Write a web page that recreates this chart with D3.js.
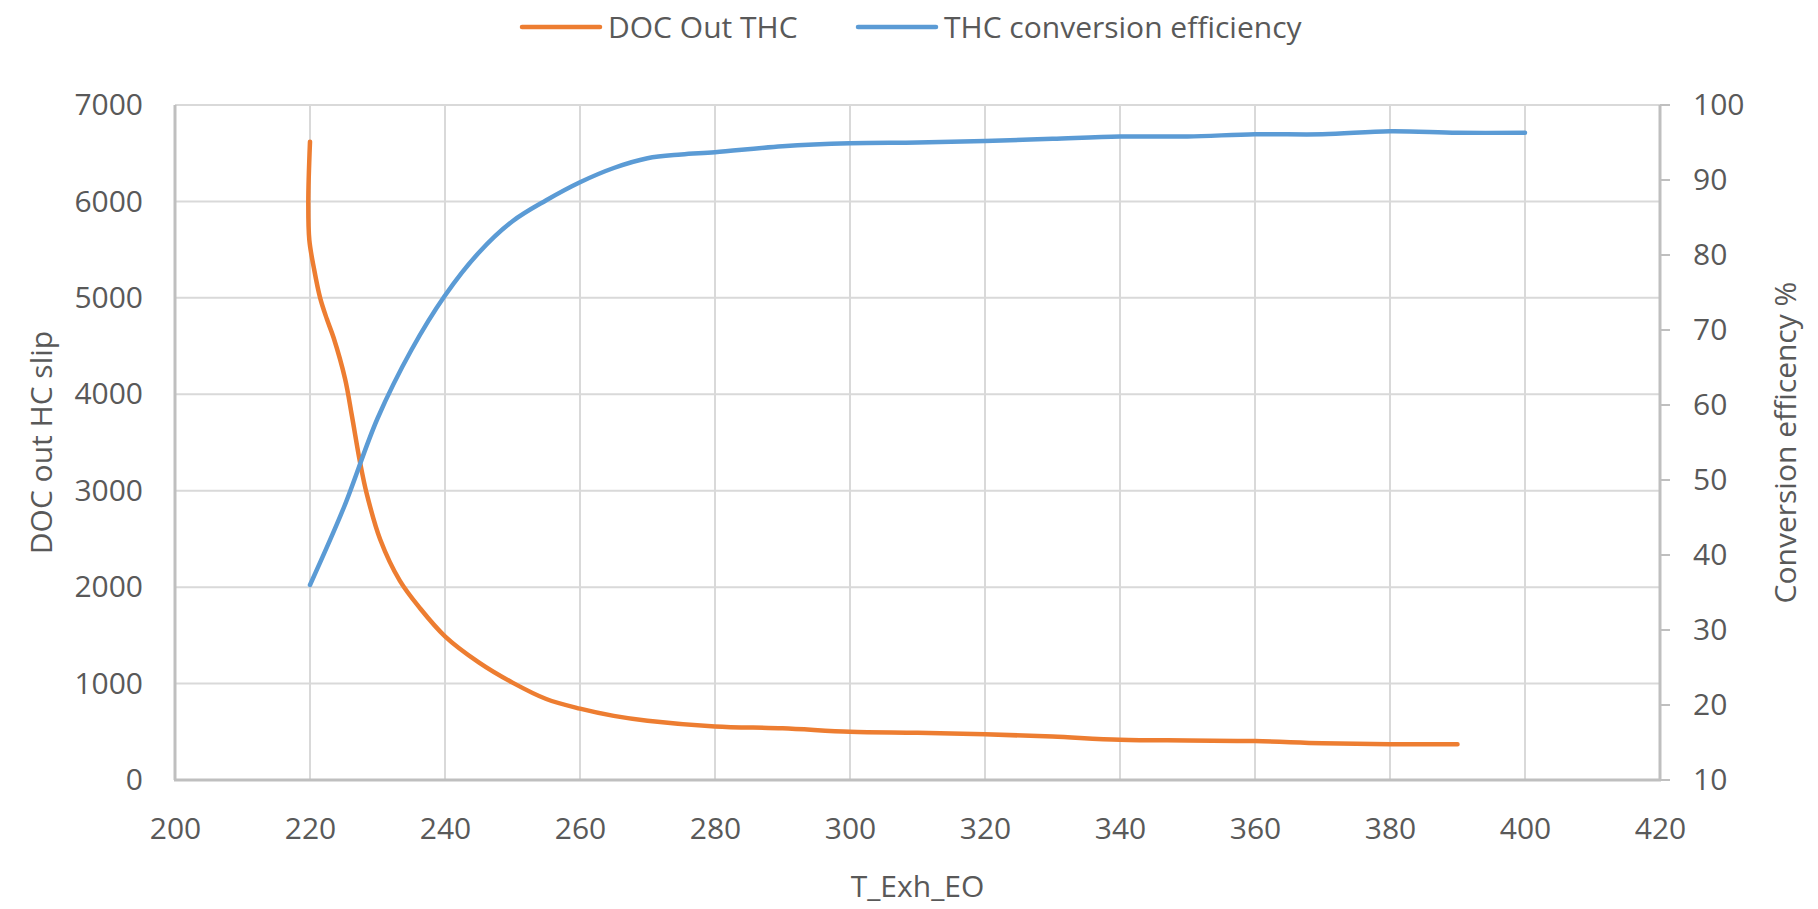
<!DOCTYPE html>
<html>
<head>
<meta charset="utf-8">
<script src="https://cdn.jsdelivr.net/npm/d3@7"></script>
<style>
  body { margin: 0; background: #fff; }
  text { font-family: "Open Sans", sans-serif; fill: #595959; }
</style>
</head>
<body>
<div id="chart"></div>
<script>
// data
var xTicks = [200, 220, 240, 260, 280, 300, 320, 340, 360, 380, 400, 420];
var leftTicks = [0, 1000, 2000, 3000, 4000, 5000, 6000, 7000];
var rightTicks = [10, 20, 30, 40, 50, 60, 70, 80, 90, 100];

var thcTemp = [220, 219.75, 219.9, 220.6, 221.5, 222.5, 223.5, 225.2, 226.2, 227.4, 228.4, 230.4, 233.3, 236.3, 240, 245, 250, 255, 260, 265, 270, 280, 290, 300, 310, 320, 330, 340, 350, 360, 370, 380, 390];
var thcOut  = [6620, 6000, 5600, 5300, 5000, 4780, 4586, 4158, 3780, 3300, 2970, 2494, 2067, 1781, 1490, 1220, 1010, 840, 740, 665, 615, 556, 537, 500, 490, 475, 450, 418, 410, 404, 382, 372, 372];

var effTemp = [220, 225, 230, 235, 240, 245, 250, 255, 260, 265, 270, 275, 280, 290, 300, 310, 320, 330, 340, 350, 360, 370, 380, 390, 400];
var effPct  = [36, 46.3, 58.2, 67.3, 74.6, 80.3, 84.5, 87.3, 89.7, 91.6, 92.9, 93.4, 93.7, 94.5, 94.9, 95.0, 95.2, 95.5, 95.8, 95.8, 96.1, 96.1, 96.5, 96.3, 96.3];

var svgWidth = 1818, svgHeight = 909;
var margin = {top: 105, right: 158, bottom: 129, left: 175},
    width = svgWidth - margin.left - margin.right,
    height = svgHeight - margin.top - margin.bottom;

var svg = d3.select("#chart")
  .append("svg")
    .attr("width", svgWidth)
    .attr("height", svgHeight);

var g = svg.append("g")
    .attr("transform", "translate(" + margin.left + "," + margin.top + ")");

var x = d3.scaleLinear().domain([200, 420]).range([0, width]);
var yL = d3.scaleLinear().domain([0, 7000]).range([height, 0]);
var yR = d3.scaleLinear().domain([10, 100]).range([height, 0]);

// gridlines
g.append("g")
  .selectAll("line.hgrid")
  .data(leftTicks.slice(1))
  .join("line")
    .attr("x1", 0).attr("x2", width)
    .attr("y1", d => yL(d)).attr("y2", d => yL(d))
    .attr("stroke", "#d9d9d9").attr("stroke-width", 2);

g.append("g")
  .selectAll("line.vgrid")
  .data(xTicks.slice(1, -1))
  .join("line")
    .attr("x1", d => x(d)).attr("x2", d => x(d))
    .attr("y1", 0).attr("y2", height)
    .attr("stroke", "#d9d9d9").attr("stroke-width", 2);

// axis lines
var axisColor = "#bfbfbf";
g.append("line").attr("x1", 0).attr("x2", 0).attr("y1", 0).attr("y2", height)
  .attr("stroke", axisColor).attr("stroke-width", 3);
g.append("line").attr("x1", width).attr("x2", width).attr("y1", 0).attr("y2", height)
  .attr("stroke", axisColor).attr("stroke-width", 3);
g.append("line").attr("x1", -1).attr("x2", width + 1).attr("y1", height).attr("y2", height)
  .attr("stroke", axisColor).attr("stroke-width", 3);

// right axis tick marks
g.append("g")
  .selectAll("line")
  .data(rightTicks)
  .join("line")
    .attr("x1", width).attr("x2", width + 10)
    .attr("y1", d => yR(d)).attr("y2", d => yR(d))
    .attr("stroke", axisColor).attr("stroke-width", 2);

// tick labels
var xAxis = g.append("g")
  .attr("transform", "translate(0," + height + ")")
  .call(d3.axisBottom(x).tickValues(xTicks).tickSize(0).tickPadding(38).tickFormat(d3.format("d")));
var yAxisL = g.append("g")
  .call(d3.axisLeft(yL).tickValues(leftTicks).tickSize(0).tickPadding(32).tickFormat(d3.format("d")));
var yAxisR = g.append("g")
  .attr("transform", "translate(" + width + ",0)")
  .call(d3.axisRight(yR).tickValues(rightTicks).tickSize(0).tickPadding(33).tickFormat(d3.format("d")));
[xAxis, yAxisL, yAxisR].forEach(function(a) {
  a.select(".domain").remove();
  a.selectAll("text")
    .style("font-family", "'Open Sans', sans-serif")
    .style("font-size", "30px")
    .attr("fill", "#595959");
});

// lines
var lineL = d3.line()
  .x(d => x(d[0])).y(d => yL(d[1]))
  .curve(d3.curveCatmullRom.alpha(0.5));
var lineR = d3.line()
  .x(d => x(d[0])).y(d => yR(d[1]))
  .curve(d3.curveCatmullRom.alpha(0.5));

g.append("path")
  .datum(d3.zip(thcTemp, thcOut))
  .attr("d", lineL)
  .attr("fill", "none")
  .attr("stroke", "#ED7D31")
  .attr("stroke-width", 4.5)
  .attr("stroke-linecap", "round");

g.append("path")
  .datum(d3.zip(effTemp, effPct))
  .attr("d", lineR)
  .attr("fill", "none")
  .attr("stroke", "#5B9BD5")
  .attr("stroke-width", 4.5)
  .attr("stroke-linecap", "round");

// axis titles
svg.append("text")
  .attr("x", margin.left + width / 2)
  .attr("y", 897)
  .attr("text-anchor", "middle")
  .style("font-size", "30px")
  .text("T_Exh_EO");

svg.append("text")
  .attr("transform", "translate(52," + (margin.top + height / 2) + ") rotate(-90)")
  .attr("text-anchor", "middle")
  .style("font-size", "30px")
  .text("DOC out HC slip");

svg.append("text")
  .attr("transform", "translate(1796," + (margin.top + height / 2) + ") rotate(-90)")
  .attr("text-anchor", "middle")
  .style("font-size", "30px")
  .text("Conversion efficency %");

// legend
var legendItems = [
  {name: "DOC Out THC", color: "#ED7D31", x: 522},
  {name: "THC conversion efficiency", color: "#5B9BD5", x: 858}
];
var legend = svg.append("g");
legendItems.forEach(function(item) {
  legend.append("line")
    .attr("x1", item.x).attr("x2", item.x + 78)
    .attr("y1", 27).attr("y2", 27)
    .attr("stroke", item.color).attr("stroke-width", 4.5)
    .attr("stroke-linecap", "round");
  legend.append("text")
    .attr("x", item.x + 86)
    .attr("y", 38)
    .style("font-size", "30px")
    .text(item.name);
});
</script>
</body>
</html>
